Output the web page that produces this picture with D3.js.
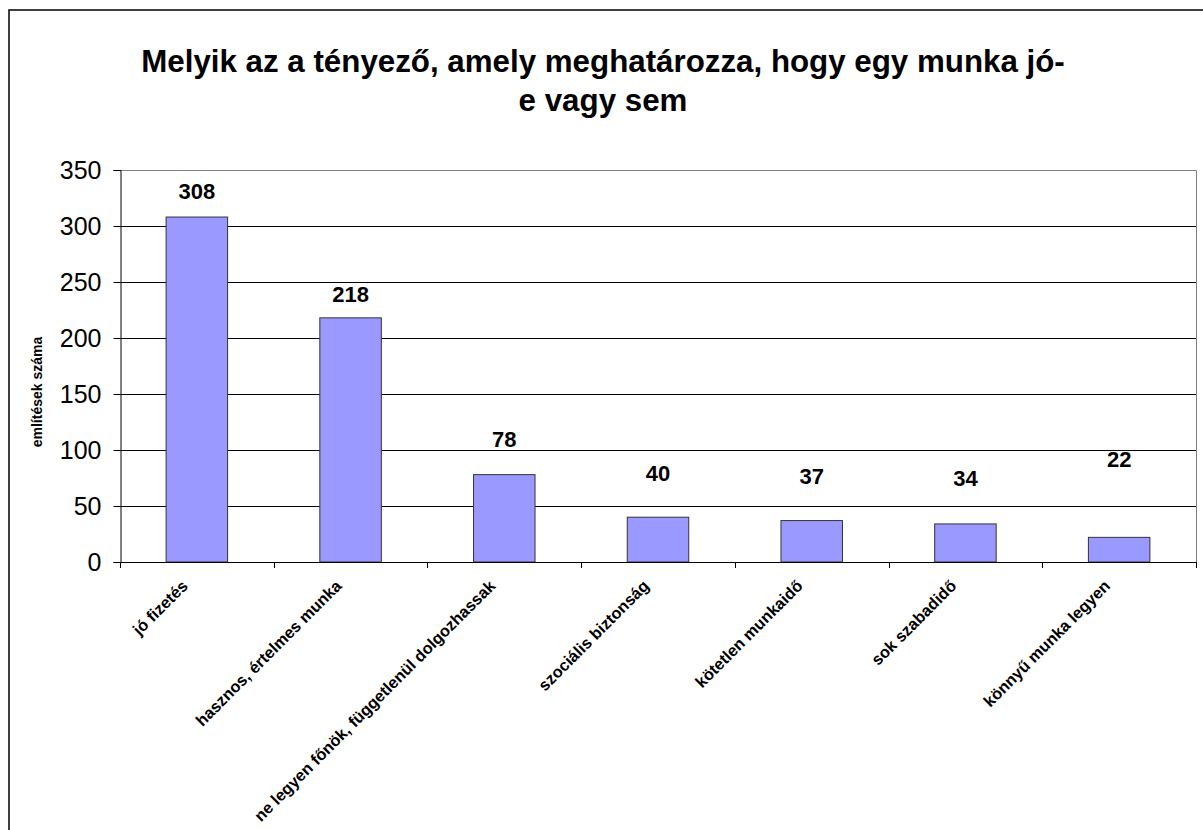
<!DOCTYPE html>
<html>
<head>
<meta charset="utf-8">
<script src="https://cdn.jsdelivr.net/npm/d3@7"></script>
<style>
  html, body { margin: 0; padding: 0; background: #fff; }
  svg { display: block; font-family: "Liberation Sans", Arial, sans-serif; }
</style>
</head>
<body>
<svg id="chart" width="1203" height="830"></svg>
<script>
// adatok
const titleLines = ['Melyik az a tényező, amely meghatározza, hogy egy munka jó-', 'e vagy sem'];
const yTitle = 'említések száma';
const categories = [
  'jó fizetés',
  'hasznos, értelmes munka',
  'ne legyen főnök, függetlenül dolgozhassak',
  'szociális biztonság',
  'kötetlen munkaidő',
  'sok szabadidő',
  'könnyű munka legyen'
];
const values = [308, 218, 78, 40, 37, 34, 22];
const yTicks = [0, 50, 100, 150, 200, 250, 300, 350];
// a címkék kézzel elhúzott helyzete (px a oszlop teteje felett)
const labelLift = [18, 16, 28, 36, 37, 38, 70];

const svg = d3.select('#chart');

// külső keret
svg.append('rect')
  .attr('x', 9).attr('y', 10)
  .attr('width', 1400).attr('height', 1000)
  .attr('fill', 'none')
  .attr('stroke', '#000')
  .attr('stroke-width', 1.5);

// cím
svg.append('g')
  .selectAll('text')
  .data(titleLines)
  .join('text')
  .attr('x', 603)
  .attr('y', (d, i) => 72 + i * 39)
  .attr('text-anchor', 'middle')
  .attr('font-size', 31.3)
  .attr('font-weight', 'bold')
  .text(d => d);

const plot = { left: 120, right: 1196, top: 170, bottom: 562 };

const x = d3.scaleBand()
  .domain(categories)
  .range([plot.left, plot.right])
  .padding(0);

const y = d3.scaleLinear()
  .domain([0, 350])
  .range([plot.bottom, plot.top]);

// rácsvonalak
svg.append('g')
  .selectAll('line')
  .data(yTicks.filter(t => t > 0 && t < 350))
  .join('line')
  .attr('x1', plot.left).attr('x2', plot.right)
  .attr('y1', d => Math.round(y(d)) + 0.5)
  .attr('y2', d => Math.round(y(d)) + 0.5)
  .attr('stroke', '#000')
  .attr('stroke-width', 1);

// rajzterület kerete (szürke)
svg.append('path')
  .attr('d', `M${plot.left},${plot.top + 0.5}H${plot.right + 0.5}V${plot.bottom}`)
  .attr('fill', 'none')
  .attr('stroke', '#808080')
  .attr('stroke-width', 1);

// oszlopok
const barW = x.bandwidth() * 0.4;
svg.append('g')
  .selectAll('rect')
  .data(values)
  .join('rect')
  .attr('x', (d, i) => x(categories[i]) + (x.bandwidth() - barW) / 2)
  .attr('y', d => y(d))
  .attr('width', barW)
  .attr('height', d => y(0) - y(d))
  .attr('fill', '#9999ff')
  .attr('stroke', '#333')
  .attr('stroke-width', 1);

// értékcímkék
svg.append('g')
  .selectAll('text')
  .data(values)
  .join('text')
  .attr('x', (d, i) => x(categories[i]) + x.bandwidth() / 2)
  .attr('y', (d, i) => y(d) - labelLift[i])
  .attr('text-anchor', 'middle')
  .attr('font-size', 22)
  .attr('font-weight', 'bold')
  .text(d => d);

// y tengely
const yAxis = svg.append('g')
  .attr('transform', `translate(${plot.left + 0.5},0)`)
  .call(d3.axisLeft(y).tickValues(yTicks).tickSize(7).tickPadding(12));
yAxis.select('.domain').attr('stroke', '#000');
yAxis.selectAll('.tick line').attr('stroke', '#000');
yAxis.selectAll('.tick text')
  .attr('font-family', '"Liberation Sans", Arial, sans-serif')
  .attr('font-size', 25)
  .attr('fill', '#000');

// x tengely: osztásjelek a kategóriák határain
const xAxisG = svg.append('g');
xAxisG.append('line')
  .attr('x1', plot.left).attr('x2', plot.right + 1)
  .attr('y1', plot.bottom + 0.5).attr('y2', plot.bottom + 0.5)
  .attr('stroke', '#000');
const bounds = categories.map(c => x(c)).concat([plot.right]);
xAxisG.selectAll('line.tk')
  .data(bounds)
  .join('line')
  .attr('class', 'tk')
  .attr('x1', d => Math.round(d) + 0.5).attr('x2', d => Math.round(d) + 0.5)
  .attr('y1', plot.bottom).attr('y2', plot.bottom + 6)
  .attr('stroke', '#000');

// kategória címkék, 45 fokban
xAxisG.selectAll('text')
  .data(categories)
  .join('text')
  .attr('transform', d => `translate(${x(d) + x.bandwidth() / 2 - 8},${plot.bottom + 25}) rotate(-45)`)
  .attr('text-anchor', 'end')
  .attr('font-size', 16.3)
  .attr('font-weight', 'bold')
  .text(d => d);

// y tengely címe
svg.append('text')
  .attr('transform', 'translate(42,392) rotate(-90)')
  .attr('text-anchor', 'middle')
  .attr('font-size', 14)
  .attr('font-weight', 'bold')
  .text(yTitle);
</script>
</body>
</html>
